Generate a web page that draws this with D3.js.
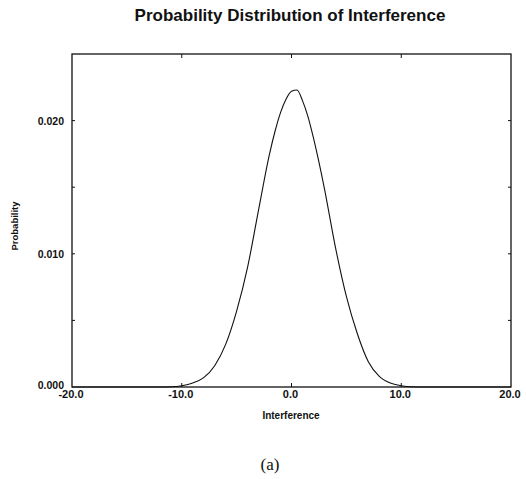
<!DOCTYPE html>
<html>
<head>
<meta charset="utf-8">
<script src="https://cdn.jsdelivr.net/npm/d3@7"></script>
<style>
  body { margin: 0; background: #fff; }
  text { font-family: "Liberation Sans", Arial, sans-serif; fill: #111; }
</style>
</head>
<body>
<div id="chart"></div>
<script>
var width = 526;
var height = 479;

// values
var interference = [-20, -15, -12, -11, -10, -9, -8, -7, -6, -5, -4, -3, -2, -1.5, -1, -0.5, 0, 0.5, 1, 1.5, 2, 3, 4, 5, 6, 7, 8, 9, 10, 11, 12, 15, 20];
var probability  = [0, 0, 0, 0.00002, 0.0001, 0.0003, 0.0007, 0.0016, 0.0032, 0.0057, 0.0090, 0.0133, 0.0175, 0.0192, 0.0206, 0.0216, 0.0222, 0.0223, 0.0215, 0.0203, 0.0187, 0.0149, 0.0105, 0.0068, 0.0040, 0.0019, 0.0008, 0.0003, 0.0001, 0.00002, 0, 0, 0];

var xTicks = [-20, -10, 0, 10, 20];
var yTicks = [0, 0.01, 0.02];
var yMinorTicks = [0.005, 0.015];

var margin = {left: 72, right: 15, top: 54, bottom: 92};

var x = d3.scaleLinear()
	.domain([-20, 20])
	.range([margin.left, width - margin.right]);

var y = d3.scaleLinear()
	.domain([0, 0.025])
	.range([height - margin.bottom, margin.top]);

var svg = d3.select("#chart").append("svg")
	.attr("width", width)
	.attr("height", height);

// title
svg.append("text")
	.attr("x", 290)
	.attr("y", 21)
	.attr("text-anchor", "middle")
	.attr("font-size", 17)
	.attr("font-weight", "bold")
	.text("Probability Distribution of Interference");

// frame
svg.append("rect")
	.attr("x", x(-20))
	.attr("y", y(0.025))
	.attr("width", x(20) - x(-20))
	.attr("height", y(0) - y(0.025))
	.attr("fill", "none")
	.attr("stroke", "#111")
	.attr("stroke-width", 1.3);

// inward ticks
var gx = svg.append("g");
gx.selectAll(".xb")
	.data(xTicks.slice(1, -1))
	.join("line")
	.attr("class", "xb")
	.attr("x1", d => x(d)).attr("x2", d => x(d))
	.attr("y1", y(0)).attr("y2", y(0) - 4)
	.attr("stroke", "#111");
gx.selectAll(".xt")
	.data(xTicks.slice(1, -1))
	.join("line")
	.attr("class", "xt")
	.attr("x1", d => x(d)).attr("x2", d => x(d))
	.attr("y1", y(0.025)).attr("y2", y(0.025) + 4)
	.attr("stroke", "#111");

var gy = svg.append("g");
var allY = yTicks.slice(1).concat(yMinorTicks);
gy.selectAll(".yl")
	.data(allY)
	.join("line")
	.attr("class", "yl")
	.attr("x1", x(-20)).attr("x2", x(-20) + 3)
	.attr("y1", d => y(d)).attr("y2", d => y(d))
	.attr("stroke", "#111");
gy.selectAll(".yr")
	.data(allY)
	.join("line")
	.attr("class", "yr")
	.attr("x1", x(20)).attr("x2", x(20) - 3)
	.attr("y1", d => y(d)).attr("y2", d => y(d))
	.attr("stroke", "#111");

// tick labels
svg.append("g").selectAll("text")
	.data(xTicks)
	.join("text")
	.attr("x", d => x(d) - 1)
	.attr("y", y(0) + 11)
	.attr("text-anchor", "middle")
	.attr("font-size", 11)
	.attr("font-weight", "bold")
	.text(d => d3.format(".1f")(d).replace("−", "-"));

svg.append("g").selectAll("text")
	.data(yTicks)
	.join("text")
	.attr("x", x(-20) - 8)
	.attr("y", d => y(d) + (d === 0 ? 2 : 4))
	.attr("text-anchor", "end")
	.attr("font-size", 10.5)
	.attr("font-weight", "bold")
	.text(d => d3.format(".3f")(d));

// axis titles
svg.append("text")
	.attr("x", 291)
	.attr("y", 419)
	.attr("text-anchor", "middle")
	.attr("font-size", 10)
	.attr("font-weight", "bold")
	.text("Interference");

svg.append("text")
	.attr("transform", "translate(18,226) rotate(-90)")
	.attr("text-anchor", "middle")
	.attr("font-size", 9.5)
	.attr("font-weight", "bold")
	.text("Probability");

// curve
var line = d3.line()
	.x((d, i) => x(interference[i]))
	.y(d => y(d))
	.curve(d3.curveMonotoneX);

svg.append("path")
	.datum(probability)
	.attr("d", line)
	.attr("fill", "none")
	.attr("stroke", "#111")
	.attr("stroke-width", 1.1);

// caption
svg.append("text")
	.attr("x", 270)
	.attr("y", 470)
	.attr("text-anchor", "middle")
	.style("font-family", "'Liberation Serif', serif")
	.attr("font-size", 17)
	.text("(a)");
</script>
</body>
</html>
